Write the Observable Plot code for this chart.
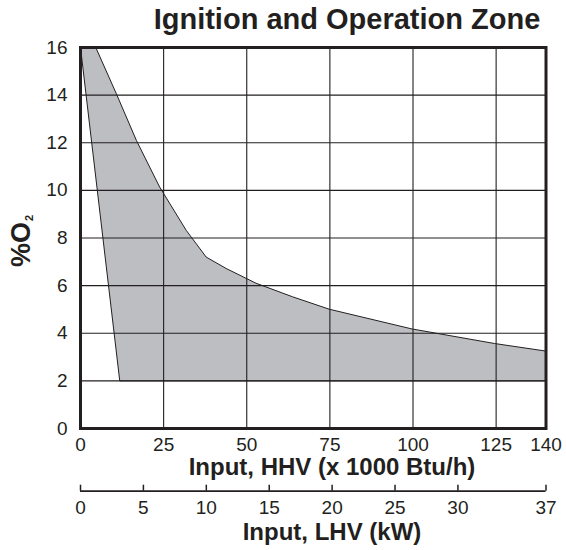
<!DOCTYPE html>
<html>
<head>
<meta charset="utf-8">
<script src="https://cdn.jsdelivr.net/npm/d3@7"></script>
<script src="https://cdn.jsdelivr.net/npm/@observablehq/plot@0.6"></script>
<style>
  html, body { margin: 0; padding: 0; background: #fff; }
  #wrap { position: relative; width: 566px; height: 550px; overflow: hidden; font-family: "Liberation Sans", Arial, sans-serif; color: #231f20; }
  .lbl { position: absolute; white-space: nowrap; font-weight: bold; line-height: 1; }
  #title { font-size: 29px; left: 347px; top: 4.8px; transform: translateX(-50%); }
  #xlab1 { font-size: 24px; left: 332px; top: 455.4px; transform: translateX(-50%); }
  #xlab2 { font-size: 24px; left: 332px; top: 519.5px; transform: translateX(-50%); }
  #ylab { font-size: 27px; left: 21px; top: 241px; transform: translate(-50%, -50%) rotate(-90deg); }
  #ylab sub { font-size: 11px; vertical-align: baseline; position: relative; top: 3px; margin-left: 1px; }
  #p1, #p2 { position: absolute; left: 0; }
  #p1 { top: 0; }
  #p2 { top: 480px; }
</style>
</head>
<body>
<div id="wrap">
  <div id="p1"></div>
  <div id="p2"></div>
  <div class="lbl" id="title">Ignition and Operation Zone</div>
  <div class="lbl" id="xlab1">Input, HHV (x 1000 Btu/h)</div>
  <div class="lbl" id="xlab2">Input, LHV (kW)</div>
  <div class="lbl" id="ylab">%O<sub>2</sub></div>
</div>
<script>
// Tick values
const hhvTicks = [0, 25, 50, 75, 100, 125, 140];
const lhvTicks = [0, 5, 10, 15, 20, 25, 30, 37];
const o2Ticks = [0, 2, 4, 6, 8, 10, 12, 14, 16];

// Ignition and operation zone outline (HHV x1000 Btu/h, %O2), closed polygon
const zoneHHV = [0, 4.6, 10.8, 16.8, 19.3, 23.8, 31.8, 37.8, 43.8, 52.8, 63.8, 74.8, 99.7, 124.5, 140, 140, 11.8, 0];
const zoneO2  = [16, 16, 14.05, 12.1, 11.4, 10.14, 8.32, 7.2, 6.72, 6.1, 5.53, 5.01, 4.18, 3.57, 3.25, 2, 2, 16];

const ink = "#231f20";
const zone = zoneHHV.map((x, i) => ({hhv: x, o2: zoneO2[i]}));

const main = Plot.plot({
  width: 566,
  height: 480,
  marginLeft: 80,
  marginRight: 20.5,
  marginTop: 47,
  marginBottom: 52,
  style: {fontFamily: "'Liberation Sans', Arial, sans-serif", fontSize: "19px", color: ink, background: "transparent", overflow: "visible"},
  x: {domain: [0, 140]},
  y: {domain: [0, 16]},
  marks: [
    Plot.line(zone, {x: "hhv", y: "o2", fill: "#bdbec2", stroke: ink, strokeWidth: 1, curve: "linear"}),
    Plot.gridX(hhvTicks.slice(1, -1), {stroke: ink, strokeOpacity: 1, strokeWidth: 1.1}),
    Plot.gridY(o2Ticks.slice(1, -1), {stroke: ink, strokeOpacity: 1, strokeWidth: 1.1}),
    Plot.axisX(hhvTicks, {tickSize: 0, tickPadding: 9, label: null}),
    Plot.axisY(o2Ticks, {tickSize: 0, tickPadding: 13, label: null}),
    Plot.frame({stroke: ink, strokeWidth: 3})
  ]
});
document.getElementById("p1").append(main);

const second = Plot.plot({
  width: 566,
  height: 70,
  marginLeft: 80,
  marginRight: 20.5,
  marginTop: 4.7,
  marginBottom: 59.3,
  style: {fontFamily: "'Liberation Sans', Arial, sans-serif", fontSize: "19px", color: ink, background: "transparent", overflow: "visible"},
  x: {domain: [0, 37]},
  y: {domain: [0, 1], axis: null},
  marks: [
    Plot.ruleY([0], {stroke: ink, strokeWidth: 1.8}),
    Plot.tickX(lhvTicks, {stroke: ink, strokeWidth: 1.5}),
    Plot.axisX(lhvTicks, {tickSize: 0, tickPadding: 9, label: null})
  ]
});
document.getElementById("p2").append(second);
</script>
</body>
</html>
